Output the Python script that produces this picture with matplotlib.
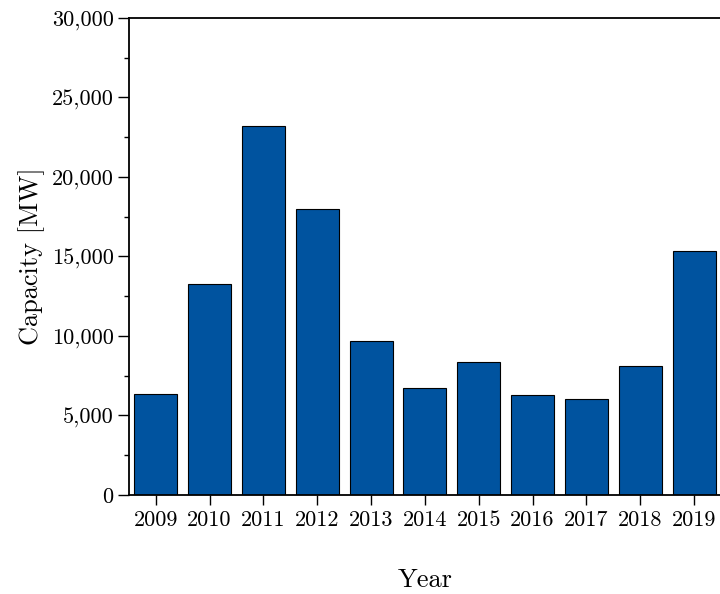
import matplotlib
matplotlib.use("Agg")
import matplotlib.pyplot as plt
from matplotlib.ticker import FuncFormatter, MultipleLocator

# Installed capacity per year (MW)
years = ["2009", "2010", "2011", "2012", "2013", "2014",
         "2015", "2016", "2017", "2018", "2019"]
capacity = [6330, 13250, 23230, 18000, 9710, 6710,
            8390, 6270, 6020, 8110, 15350]

BAR_COLOR = "#00539F"

plt.rcParams["font.family"] = "serif"
plt.rcParams["font.serif"] = ["cmr10", "DejaVu Serif"]
plt.rcParams["mathtext.fontset"] = "cm"
plt.rcParams["axes.unicode_minus"] = False

fig = plt.figure(figsize=(7.2, 5.94), dpi=100)
ax = fig.add_axes([0.179, 0.1667, 0.8224, 0.803])

x = list(range(len(years)))
ax.bar(x, capacity, width=0.8, color=BAR_COLOR, edgecolor="black", linewidth=0.8)

ax.set_xlim(-0.5, len(years) - 0.5)
ax.set_ylim(0, 30000)
ax.set_xticks(x)
ax.set_xticklabels(years)
ax.yaxis.set_major_locator(MultipleLocator(5000))
ax.yaxis.set_minor_locator(MultipleLocator(2500))
ax.yaxis.set_major_formatter(FuncFormatter(lambda v, pos: f"{int(v):,}"))

ax.tick_params(axis="y", which="major", direction="out", length=8,
               width=1.0, pad=3, labelsize=16)
ax.tick_params(axis="x", which="major", direction="out", length=7,
               width=1.0, pad=4, labelsize=16)
ax.tick_params(axis="y", which="minor", direction="out", length=3.5, width=1.0)

for side in ["left", "bottom", "top"]:
    ax.spines[side].set_linewidth(1.3)
ax.spines["right"].set_visible(False)

ax.set_xlabel("Year", fontsize=19, labelpad=28)
ax.set_ylabel("Capacity [MW]", fontsize=19, labelpad=5)

fig.savefig("out.png", dpi=100)
